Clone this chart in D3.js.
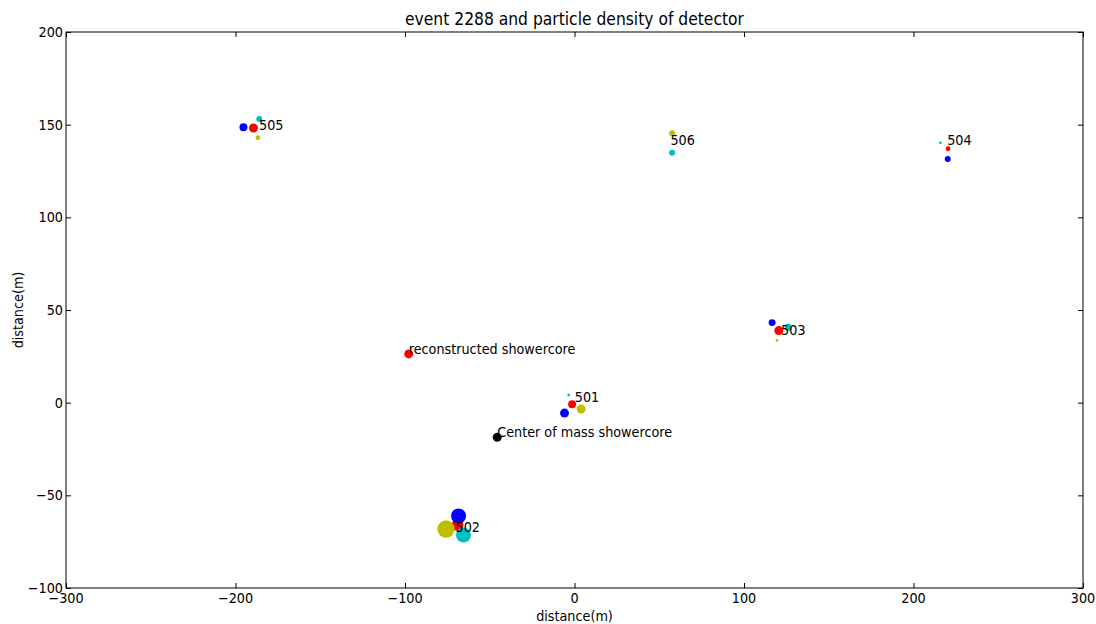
<!DOCTYPE html>
<html>
<head>
<meta charset="utf-8">
<script src="https://cdn.jsdelivr.net/npm/d3@7"></script>
<style>
body { margin: 0; background: #fff; }
svg text { font-family: "DejaVu Sans", sans-serif; fill: #000; }
</style>
</head>
<body>
<svg id="chart" width="1096" height="624"></svg>
<script>
// detectors and where their names are written
var detectors = ["501", "502", "503", "504", "505", "506"];
var labelX = [0.2, -70.2, 121.9, 219.9, -186.1, 56.6];
var labelY = [0.5, -69.6, 36.7, 139.1, 147.2, 139.1];

// sub detector hits (x, y, density) per colour
var redX = [-1.4, -69.0, 120.5, 220.4, -189.4, 57.6];
var redY = [-0.9, -66.0, 38.9, 137.0, 148.2, 145.4];
var redD = [16, 36, 20, 6, 20, 4];

var blueX = [-5.9, -68.4, 116.6, 220.2, -195.3, 57.6];
var blueY = [-5.6, -61.1, 43.2, 131.5, 148.6, 145.4];
var blueD = [20, 56, 12, 9, 16, 4];

var yellowX = [3.9, -75.8, 119.5, 215.9, -186.8, 57.6];
var yellowY = [-3.4, -68.2, 33.6, 140.2, 143.0, 145.4];
var yellowD = [20, 76, 2, 1, 6, 9];

var cyanX = [-3.4, -65.5, 126.1, 215.9, -186.0, 57.6];
var cyanY = [4.2, -71.4, 40.7, 140.2, 153.1, 134.9];
var cyanD = [2, 56, 12, 2, 9, 9];

// shower cores
var coreNames = ["reconstructed showercore", "Center of mass showercore"];
var coreX = [-97.8, -45.6];
var coreY = [26.3, -18.7];
var coreD = [20, 20];
var coreColors = ["#ff0000", "#000000"];

var xTicks = [-300, -200, -100, 0, 100, 200, 300];
var yTicks = [-100, -50, 0, 50, 100, 150, 200];

var margin = {top: 32, right: 13, bottom: 36, left: 66};
var width = 1096 - margin.left - margin.right;
var height = 624 - margin.top - margin.bottom;
var squeeze = 0.915;

var svg = d3.select("#chart");
var g = svg.append("g").attr("transform", "translate(" + margin.left + "," + margin.top + ")");

var x = d3.scaleLinear().domain([-300, 300]).range([0, width]);
var y = d3.scaleLinear().domain([-100, 200]).range([height, 0]);
var r = d3.scaleSqrt().domain([0, 100]).range([0, 10]);

function addText(parent, px, py, str, size, anchor, rot) {
    var t = parent.append("text")
        .attr("transform", "translate(" + px + "," + py + ")" + (rot ? " rotate(" + rot + ")" : "") + " scale(" + squeeze + ",1)")
        .style("font-size", size + "px")
        .attr("text-anchor", anchor || "start")
        .text(str);
    return t;
}

function drawSeries(xs, ys, ds, color) {
    g.append("g").selectAll("circle")
        .data(xs)
        .enter().append("circle")
        .attr("cx", function(d) { return x(d); })
        .attr("cy", function(d, i) { return y(ys[i]); })
        .attr("r", function(d, i) { return r(ds[i]); })
        .attr("fill", color);
}

drawSeries(redX, redY, redD, "#ff0000");
drawSeries(blueX, blueY, blueD, "#0000ff");
drawSeries(yellowX, yellowY, yellowD, "#bfbf00");
drawSeries(cyanX, cyanY, cyanD, "#00bfbf");

coreX.forEach(function(cx, i) {
    g.append("circle")
        .attr("cx", x(cx))
        .attr("cy", y(coreY[i]))
        .attr("r", r(coreD[i]))
        .attr("fill", coreColors[i]);
});

// labels on top of the markers
detectors.forEach(function(name, i) {
    addText(g, x(labelX[i]), y(labelY[i]), name, 14, "start");
});
coreNames.forEach(function(name, i) {
    addText(g, x(coreX[i]), y(coreY[i]), name, 14, "start");
});

// axes, ticks pointing inward
function styleAxis(sel) {
    sel.select(".domain").remove();
    sel.selectAll(".tick line").attr("stroke", "#000");
}

var xb = g.append("g").attr("transform", "translate(0," + height + ")")
    .call(d3.axisBottom(x).tickValues(xTicks).tickSize(-5).tickFormat(""));
styleAxis(xb);
var xt = g.append("g").call(d3.axisTop(x).tickValues(xTicks).tickSize(-5).tickFormat(""));
styleAxis(xt);
var yl = g.append("g").call(d3.axisLeft(y).tickValues(yTicks).tickSize(-5).tickFormat(""));
styleAxis(yl);
var yr = g.append("g").attr("transform", "translate(" + width + ",0)")
    .call(d3.axisRight(y).tickValues(yTicks).tickSize(-5).tickFormat(""));
styleAxis(yr);

var fmt = function(v) { return String(v).replace("-", "\u2212"); };
xTicks.forEach(function(v) {
    addText(g, x(v), height + 15, fmt(v), 14, "middle");
});
yTicks.forEach(function(v) {
    addText(g, -3, y(v) + 5, fmt(v), 14, "end");
});

g.append("rect")
    .attr("width", width)
    .attr("height", height)
    .attr("fill", "none")
    .attr("stroke", "#000")
    .attr("stroke-width", 1);

addText(svg, margin.left + width / 2, 25, "event 2288 and particle density of detector", 17, "middle");
addText(svg, margin.left + width / 2, 621, "distance(m)", 14, "middle");
addText(svg, 23, margin.top + height / 2, "distance(m)", 14, "middle", -90);
</script>
</body>
</html>
